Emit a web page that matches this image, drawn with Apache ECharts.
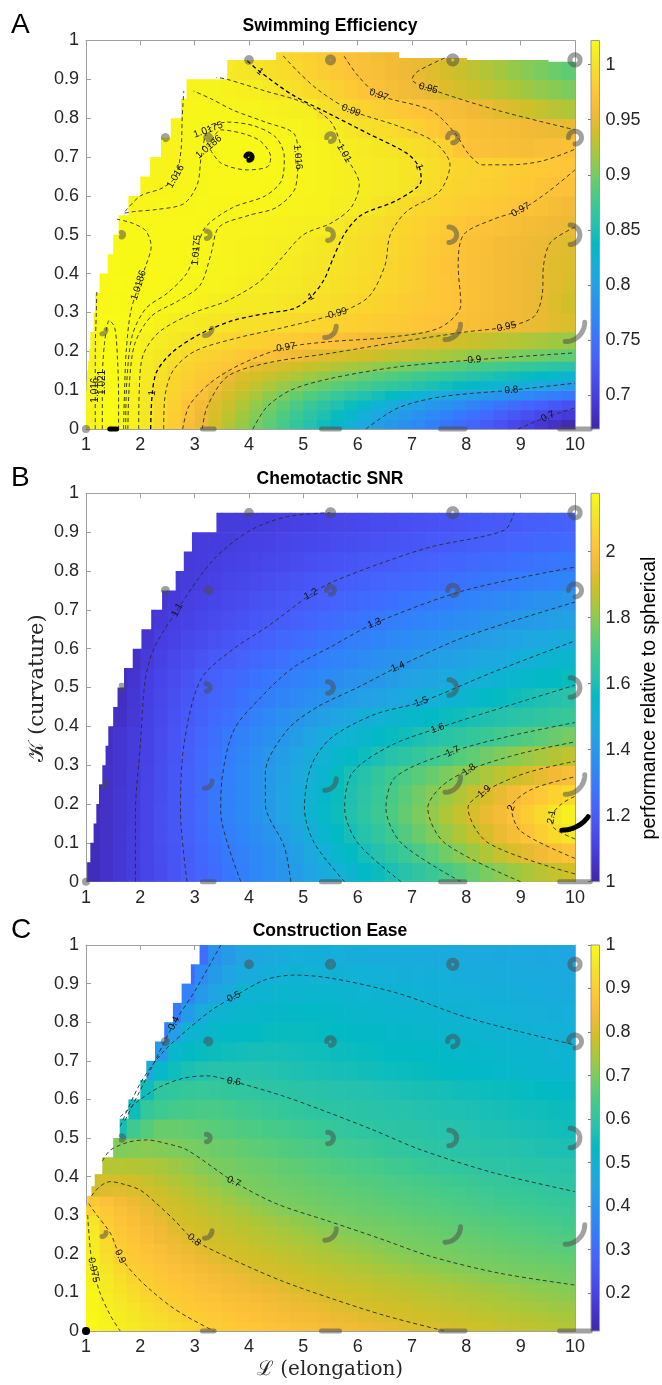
<!DOCTYPE html>
<html>
<head>
<meta charset="utf-8">
<script src="https://cdn.jsdelivr.net/npm/echarts@6/dist/echarts.min.js"></script>
<style>
html,body{margin:0;padding:0;background:#fff}
#chart{width:662px;height:1385px}
</style>
</head>
<body>
<div id="chart"></div>
<script>
// Column centres (elongation) shared by all three maps
const cellL = [1.125,1.375,1.625,1.875,2.125,2.375,2.625,2.875,3.125,3.375,3.625,3.875,4.125,4.375,4.625,4.875,5.125,5.375,5.625,5.875,6.125,6.375,6.625,6.875,7.125,7.375,7.625,7.875,8.125,8.375,8.625,8.875,9.125,9.375,9.625,9.875];
// Row centres (curvature); finer rows where the maps change quickly
const rowKA = [0.0125,0.0375,0.0625,0.0875,0.1125,0.1375,0.1625,0.1875,0.225,0.275,0.325,0.375,0.425,0.475,0.525,0.575,0.625,0.675,0.725,0.775,0.825,0.875,0.925,0.975];
const rowKB = [0.025,0.075,0.125,0.175,0.225,0.275,0.325,0.375,0.425,0.475,0.525,0.575,0.625,0.675,0.725,0.775,0.825,0.875,0.925,0.975];
const rowKC = [0.0125,0.0375,0.0625,0.0875,0.1125,0.1375,0.1625,0.1875,0.2125,0.2375,0.2625,0.2875,0.3125,0.3375,0.3625,0.3875,0.425,0.475,0.525,0.575,0.625,0.675,0.725,0.775,0.825,0.875,0.925,0.975];

// Swimming efficiency (rows bottom to top)
const effA = [
 [1.015,1.022,1.0203,1.0128,1.003,0.9923,0.9795,0.9658,0.9519,0.9389,0.926,0.9131,0.9003,0.8896,0.878,0.8664,0.8549,0.8433,0.8317,0.8201,0.8086,0.797,0.7883,0.7796,0.7709,0.7622,0.7535,0.7448,0.7361,0.7274,0.7186,0.7099,0.7012,0.6927,0.6843,0.676],
 [1.015,1.022,1.0204,1.0131,1.0033,0.9927,0.9812,0.9688,0.9543,0.9416,0.9296,0.9175,0.9055,0.8942,0.8834,0.8726,0.8619,0.8511,0.8403,0.8295,0.8188,0.808,0.7978,0.7896,0.7815,0.7733,0.7652,0.757,0.7489,0.7407,0.7326,0.7244,0.7163,0.7081,0.7003,0.6935],
 [1.015,1.022,1.0204,1.0132,1.0036,0.9931,0.9838,0.9719,0.9579,0.9449,0.9339,0.9228,0.9117,0.9006,0.8909,0.8812,0.8715,0.8618,0.8522,0.8425,0.8328,0.8231,0.8134,0.8038,0.7955,0.7883,0.7811,0.7739,0.7667,0.7595,0.7524,0.7452,0.738,0.7308,0.7237,0.7166],
 [1.015,1.022,1.0205,1.0134,1.004,0.9938,0.9849,0.9767,0.9669,0.9498,0.9399,0.9301,0.9203,0.9104,0.9006,0.8927,0.885,0.8773,0.8696,0.8619,0.8542,0.8465,0.8387,0.831,0.8233,0.8156,0.8079,0.8002,0.7946,0.7889,0.7832,0.7776,0.7719,0.7663,0.7606,0.755],
 [1.015,1.0215,1.0205,1.0137,1.0048,0.9954,0.9871,0.9803,0.9734,0.9596,0.9457,0.9378,0.9299,0.922,0.9141,0.9061,0.8989,0.8934,0.8879,0.8824,0.877,0.8715,0.866,0.8606,0.8551,0.8496,0.8441,0.8387,0.8332,0.8277,0.8223,0.8168,0.8113,0.8059,0.8003,0.7945],
 [1.015,1.0214,1.0204,1.0142,1.0059,0.997,0.9888,0.9835,0.9782,0.9729,0.9536,0.9449,0.9391,0.9333,0.9275,0.9217,0.9159,0.9101,0.9043,0.8989,0.8933,0.8888,0.8843,0.8799,0.8754,0.8709,0.8664,0.8619,0.8575,0.853,0.8485,0.8441,0.8396,0.8351,0.8306,0.8262],
 [1.015,1.0213,1.0203,1.0149,1.0074,1.0004,0.9924,0.9868,0.9824,0.9779,0.9734,0.9665,0.9527,0.9464,0.9419,0.9374,0.9328,0.9283,0.9238,0.9193,0.9148,0.9103,0.9058,0.9012,0.8975,0.894,0.8905,0.8869,0.8834,0.8799,0.8764,0.8729,0.8693,0.8658,0.8623,0.8588],
 [1.015,1.0212,1.0203,1.0157,1.0085,1.0034,0.9978,0.9907,0.9866,0.9829,0.9792,0.9754,0.9718,0.9671,0.9616,0.9562,0.9507,0.9472,0.9441,0.9409,0.9378,0.9347,0.9315,0.9284,0.9252,0.9221,0.919,0.9158,0.9127,0.9095,0.9064,0.9033,0.9001,0.8975,0.8947,0.8918],
 [1.015,1.0211,1.0202,1.0166,1.0119,1.0078,1.004,1.0002,0.9965,0.9929,0.9894,0.9868,0.9842,0.9817,0.9791,0.9765,0.9739,0.9713,0.9681,0.9642,0.9604,0.9565,0.9527,0.9491,0.9461,0.9432,0.9402,0.9372,0.9343,0.9313,0.9283,0.9254,0.9224,0.9194,0.9165,0.9135],
 [1.0155,1.0209,1.02,1.0181,1.0162,1.0134,1.0106,1.008,1.0053,1.0027,1.0001,0.9983,0.9964,0.9946,0.9928,0.991,0.9891,0.9872,0.9853,0.9833,0.9814,0.9795,0.9775,0.9756,0.9737,0.9717,0.9697,0.9669,0.9642,0.9614,0.9586,0.9558,0.9531,0.9503,0.947,0.944],
 [1.0155,1.0187,1.0194,1.0186,1.0179,1.017,1.0161,1.0144,1.0127,1.0109,1.0092,1.0075,1.0058,1.0041,1.0024,1.0007,0.9986,0.9961,0.9937,0.9912,0.9887,0.9861,0.9834,0.9808,0.9782,0.9755,0.9729,0.9703,0.967,0.9637,0.9603,0.957,0.9537,0.9503,0.944,0.938],
 [null,1.0186,1.0198,1.0189,1.0184,1.018,1.0176,1.0168,1.0159,1.0145,1.013,1.0116,1.0101,1.0081,1.006,1.0039,1.0018,0.9996,0.9971,0.9946,0.9921,0.9894,0.9862,0.9829,0.9797,0.9764,0.9732,0.9699,0.9667,0.9635,0.9603,0.9571,0.9538,0.9506,0.9465,0.9422],
 [null,1.0188,1.0195,1.0193,1.0186,1.0182,1.0179,1.0176,1.0166,1.0154,1.0142,1.013,1.0118,1.0106,1.0088,1.0063,1.0038,1.0013,0.9989,0.9964,0.9939,0.9915,0.9874,0.9836,0.9798,0.9761,0.9723,0.9697,0.9665,0.9634,0.9602,0.9571,0.9539,0.9508,0.9474,0.9439],
 [null,null,1.0193,1.0193,1.0188,1.0184,1.0181,1.0177,1.0172,1.016,1.0149,1.0139,1.0129,1.0119,1.0108,1.0095,1.0065,1.0035,1.0005,0.9977,0.9949,0.9922,0.9893,0.9855,0.9818,0.9781,0.9744,0.9707,0.9673,0.9642,0.961,0.9578,0.9547,0.9516,0.9488,0.9463],
 [null,null,1.019,1.0187,1.0184,1.0181,1.0179,1.0178,1.0176,1.0169,1.0157,1.0149,1.0141,1.0133,1.0126,1.0118,1.011,1.0102,1.0059,1.0005,0.9973,0.9942,0.9912,0.988,0.9848,0.9817,0.9785,0.9753,0.9721,0.969,0.9663,0.9635,0.9607,0.9579,0.9552,0.9524],
 [null,null,null,1.0161,1.0165,1.0169,1.0174,1.0176,1.0178,1.0177,1.0176,1.0173,1.0168,1.0164,1.0158,1.0146,1.0135,1.0124,1.0112,1.0101,1.0062,1.0019,0.9977,0.9934,0.9896,0.9871,0.9847,0.9822,0.9798,0.9773,0.9748,0.9724,0.9699,0.967,0.962,0.958],
 [null,null,null,null,1.015,1.0158,1.0165,1.0171,1.0176,1.0179,1.0181,1.0181,1.0179,1.0176,1.0169,1.0159,1.0146,1.0133,1.012,1.0107,1.0089,1.0065,1.004,1.0016,0.9984,0.9934,0.9893,0.9869,0.9845,0.9821,0.9797,0.9773,0.9749,0.9725,0.97,0.9675],
 [null,null,null,null,1.015,1.0154,1.0159,1.0167,1.0176,1.0182,1.0187,1.019,1.019,1.0185,1.0175,1.0161,1.0144,1.013,1.0115,1.0099,1.0079,1.006,1.004,1.002,1.0001,0.9956,0.9913,0.9886,0.9866,0.9847,0.9827,0.9808,0.9788,0.9769,0.9749,0.973],
 [null,null,null,null,null,1.0152,1.0157,1.0165,1.0173,1.0187,1.019,1.0192,1.0189,1.0183,1.0172,1.016,1.0143,1.0125,1.0106,1.0083,1.0057,1.0032,1.0007,0.9976,0.9945,0.9913,0.9838,0.9733,0.9687,0.9668,0.9649,0.963,0.9625,0.964,0.9655,0.967],
 [null,null,null,null,null,null,1.0153,1.0163,1.017,1.0176,1.0181,1.0183,1.0178,1.0171,1.0158,1.0143,1.0127,1.0112,1.0084,1.0028,0.9984,0.9954,0.9924,0.9888,0.983,0.9772,0.9715,0.9683,0.966,0.9637,0.9614,0.959,0.9567,0.9544,0.9521,0.9497],
 [null,null,null,null,null,null,null,1.0161,1.0164,1.0163,1.016,1.0151,1.0141,1.0131,1.0121,1.0111,1.0102,0.9984,0.9937,0.9892,0.9857,0.9821,0.9786,0.975,0.9715,0.9676,0.9636,0.9596,0.9556,0.9515,0.947,0.942,0.937,0.932,0.927,0.922],
 [null,null,null,null,null,null,null,1.0155,1.0155,1.0151,1.0134,1.0118,1.0104,1.0061,1.0006,0.9964,0.9921,0.9876,0.9827,0.9777,0.9728,0.968,0.9634,0.9588,0.9542,0.9495,0.9448,0.9401,0.9354,0.9307,0.926,0.9212,0.9165,0.9118,0.9071,0.9024],
 [null,null,null,null,null,null,null,null,null,null,1.0057,1.0031,1.0004,0.997,0.9934,0.9899,0.9852,0.9805,0.9758,0.9711,0.9669,0.9629,0.9589,0.9548,0.9508,0.9455,0.94,0.9345,0.929,0.9235,0.918,0.9125,0.907,0.9015,0.896,0.8905],
 [null,null,null,null,null,null,null,null,null,null,null,null,null,null,0.99,0.986,0.982,0.978,0.973,0.968,0.964,0.96,0.957,0.955,0.953,0.951,0.949,0.946,null,null,null,null,null,null,null,null]
];
// Chemotactic signal-to-noise ratio
const snrB = [
 [1.031,1.053,1.075,1.097,1.123,1.149,1.176,1.203,1.229,1.256,1.282,1.309,1.335,1.361,1.388,1.415,1.444,1.472,1.5,1.526,1.552,1.577,1.602,1.627,1.651,1.676,1.7,1.725,1.749,1.773,1.798,1.82,1.84,1.86,1.878,1.898],
 [1.031,1.053,1.075,1.097,1.124,1.151,1.178,1.206,1.236,1.266,1.295,1.32,1.345,1.37,1.395,1.43,1.467,1.504,1.533,1.562,1.591,1.62,1.648,1.677,1.705,1.734,1.763,1.791,1.821,1.85,1.879,1.908,1.933,1.958,1.983,2.008],
 [1.031,1.052,1.074,1.096,1.124,1.154,1.183,1.213,1.245,1.277,1.307,1.332,1.358,1.383,1.414,1.455,1.496,1.529,1.561,1.593,1.625,1.656,1.688,1.72,1.751,1.783,1.815,1.846,1.878,1.91,1.942,1.975,2.008,2.042,2.076,2.11],
 [1.031,1.052,1.074,1.095,1.124,1.155,1.186,1.218,1.252,1.286,1.317,1.347,1.377,1.408,1.443,1.478,1.513,1.546,1.58,1.614,1.646,1.679,1.712,1.745,1.777,1.81,1.843,1.877,1.909,1.941,1.972,2.005,2.039,2.074,2.109,2.143],
 [1.031,1.052,1.073,1.094,1.122,1.153,1.184,1.217,1.251,1.285,1.317,1.348,1.378,1.41,1.443,1.476,1.509,1.542,1.575,1.608,1.64,1.672,1.703,1.732,1.762,1.791,1.821,1.85,1.879,1.909,1.941,1.972,2.003,2.028,2.053,2.078],
 [null,1.051,1.072,1.092,1.119,1.151,1.182,1.214,1.249,1.283,1.316,1.347,1.378,1.409,1.439,1.469,1.499,1.532,1.565,1.598,1.626,1.655,1.683,1.708,1.731,1.753,1.775,1.798,1.82,1.842,1.865,1.887,1.91,1.934,1.958,1.982],
 [null,1.05,1.071,1.091,1.117,1.148,1.179,1.211,1.243,1.274,1.305,1.334,1.362,1.391,1.42,1.451,1.481,1.509,1.532,1.555,1.579,1.602,1.622,1.642,1.663,1.683,1.703,1.722,1.741,1.76,1.78,1.799,1.817,1.834,1.852,1.87],
 [null,1.05,1.07,1.09,1.115,1.145,1.175,1.205,1.234,1.263,1.293,1.319,1.345,1.371,1.397,1.424,1.451,1.478,1.503,1.52,1.536,1.553,1.57,1.586,1.603,1.617,1.632,1.646,1.661,1.675,1.69,1.705,1.72,1.736,1.752,1.767],
 [null,null,1.046,1.079,1.109,1.137,1.165,1.193,1.219,1.244,1.269,1.294,1.318,1.34,1.363,1.386,1.408,1.429,1.449,1.47,1.491,1.508,1.521,1.534,1.547,1.56,1.573,1.586,1.599,1.61,1.62,1.631,1.641,1.652,1.663,1.673],
 [null,null,1.041,1.074,1.106,1.132,1.158,1.184,1.208,1.229,1.25,1.271,1.292,1.311,1.329,1.346,1.364,1.382,1.4,1.414,1.428,1.442,1.457,1.471,1.485,1.5,1.513,1.526,1.539,1.552,1.566,1.579,1.592,1.605,1.617,1.63],
 [null,null,1.04,1.066,1.102,1.126,1.15,1.173,1.198,1.215,1.232,1.25,1.267,1.284,1.301,1.315,1.329,1.344,1.358,1.372,1.387,1.401,1.415,1.428,1.441,1.454,1.467,1.48,1.494,1.506,1.518,1.529,1.541,1.552,1.564,1.576],
 [null,null,null,1.052,1.089,1.113,1.132,1.153,1.17,1.19,1.206,1.222,1.237,1.253,1.269,1.285,1.3,1.313,1.326,1.338,1.351,1.364,1.376,1.389,1.402,1.414,1.426,1.438,1.45,1.462,1.474,1.486,1.498,1.51,1.522,1.534],
 [null,null,null,null,1.072,1.101,1.116,1.132,1.147,1.162,1.178,1.193,1.208,1.222,1.236,1.25,1.263,1.277,1.291,1.304,1.316,1.328,1.34,1.352,1.363,1.375,1.387,1.399,1.41,1.422,1.433,1.444,1.456,1.467,1.478,1.49],
 [null,null,null,null,1.07,1.084,1.103,1.116,1.129,1.142,1.155,1.167,1.18,1.193,1.206,1.218,1.231,1.243,1.256,1.268,1.281,1.293,1.305,1.315,1.325,1.335,1.345,1.355,1.365,1.376,1.386,1.396,1.406,1.415,1.425,1.435],
 [null,null,null,null,null,1.075,1.089,1.103,1.114,1.126,1.137,1.149,1.16,1.171,1.183,1.194,1.205,1.215,1.225,1.235,1.245,1.255,1.266,1.276,1.286,1.296,1.306,1.315,1.325,1.334,1.344,1.353,1.363,1.372,1.382,1.391],
 [null,null,null,null,null,null,1.082,1.091,1.102,1.112,1.122,1.132,1.142,1.152,1.161,1.171,1.181,1.191,1.201,1.209,1.216,1.224,1.232,1.24,1.247,1.255,1.263,1.271,1.278,1.286,1.294,1.302,1.309,1.316,1.324,1.331],
 [null,null,null,null,null,null,null,1.087,1.094,1.102,1.109,1.117,1.125,1.133,1.14,1.148,1.156,1.164,1.172,1.179,1.187,1.195,1.202,1.209,1.215,1.222,1.229,1.235,1.242,1.249,1.255,1.262,1.269,1.275,1.282,1.289],
 [null,null,null,null,null,null,null,1.088,1.091,1.094,1.098,1.103,1.109,1.115,1.122,1.128,1.134,1.14,1.146,1.153,1.159,1.165,1.171,1.178,1.184,1.19,1.196,1.202,1.208,1.214,1.219,1.225,1.23,1.236,1.241,1.247],
 [null,null,null,null,null,null,null,null,null,1.09,1.093,1.095,1.098,1.099,1.105,1.11,1.116,1.122,1.127,1.133,1.139,1.145,1.15,1.156,1.162,1.168,1.173,1.179,1.185,1.191,1.196,1.202,1.207,1.212,1.217,1.222],
 [null,null,null,null,null,null,null,null,null,null,null,null,null,null,null,null,null,null,null,null,null,null,null,null,null,null,null,null,null,null,null,null,null,null,null,null]
];
// Construction ease
const easeC = [
 [0.9946,0.9837,0.9726,0.9609,0.9492,0.9376,0.9259,0.9142,0.9026,0.8952,0.8891,0.883,0.8768,0.8707,0.8646,0.8585,0.8523,0.8462,0.8401,0.834,0.8279,0.8217,0.8156,0.8095,0.8033,0.798,0.7936,0.7892,0.7848,0.7805,0.7761,0.7717,0.7673,0.7629,0.7586,0.7542],
 [0.991,0.979,0.9662,0.9527,0.9393,0.9258,0.9124,0.8995,0.8927,0.886,0.8793,0.8725,0.8658,0.8591,0.8524,0.8456,0.8389,0.8322,0.8254,0.8187,0.812,0.8053,0.799,0.7947,0.7903,0.7859,0.7815,0.7772,0.7728,0.7684,0.764,0.7597,0.7553,0.7509,0.7465,0.7422],
 [0.9883,0.9751,0.9595,0.9439,0.9283,0.9128,0.8987,0.8914,0.8841,0.8768,0.8694,0.8621,0.8548,0.8475,0.8402,0.8329,0.8256,0.8183,0.811,0.8037,0.7978,0.7933,0.7888,0.7843,0.7798,0.7753,0.7708,0.7663,0.7618,0.7573,0.7528,0.7483,0.7438,0.7393,0.7348,0.7303],
 [0.9848,0.9693,0.9515,0.9337,0.916,0.8992,0.8911,0.8831,0.875,0.8669,0.8589,0.8508,0.8427,0.8347,0.8266,0.8185,0.8105,0.8024,0.7967,0.7921,0.7874,0.7827,0.778,0.7734,0.7687,0.764,0.7594,0.7547,0.75,0.7453,0.7407,0.736,0.7313,0.7267,0.722,0.7173],
 [0.9832,0.963,0.9424,0.9218,0.9012,0.8916,0.8827,0.8738,0.8649,0.856,0.8471,0.8381,0.8292,0.8203,0.8114,0.8025,0.7966,0.7918,0.787,0.7822,0.7774,0.7726,0.7678,0.763,0.7582,0.7534,0.7486,0.7438,0.739,0.7342,0.7294,0.7246,0.7198,0.715,0.7102,0.7054],
 [0.979,0.9563,0.9322,0.9082,0.8934,0.8835,0.8735,0.8635,0.8536,0.8436,0.8337,0.8237,0.8137,0.8038,0.7967,0.7914,0.7861,0.7807,0.7754,0.77,0.7648,0.7594,0.7541,0.7488,0.7434,0.7381,0.7328,0.7274,0.7221,0.7168,0.7114,0.7061,0.7007,0.6975,0.6945,0.6915],
 [0.9757,0.9479,0.9197,0.8967,0.8857,0.8747,0.8637,0.8526,0.8416,0.8306,0.8196,0.8086,0.7987,0.7927,0.7867,0.7807,0.7747,0.7687,0.7627,0.7567,0.7507,0.7448,0.7388,0.7328,0.7268,0.7208,0.7148,0.7088,0.7028,0.6986,0.696,0.6935,0.6909,0.6884,0.6858,0.6833],
 [0.9724,0.9386,0.9047,0.8893,0.8769,0.8644,0.852,0.8396,0.8271,0.8147,0.8022,0.7945,0.7882,0.7818,0.7753,0.7688,0.7622,0.7557,0.7492,0.7427,0.7362,0.7297,0.7232,0.7166,0.7101,0.7035,0.6987,0.6959,0.6931,0.6903,0.6875,0.6847,0.6819,0.6791,0.6763,0.6734],
 [0.968,0.9298,0.8969,0.8826,0.8683,0.854,0.8397,0.8254,0.8111,0.7985,0.7916,0.7848,0.7779,0.771,0.7641,0.7573,0.7504,0.7435,0.7367,0.7298,0.7229,0.716,0.7092,0.7023,0.6979,0.6947,0.6915,0.6883,0.6851,0.6819,0.6787,0.6754,0.6722,0.669,0.6658,0.6626],
 [0.9647,0.9216,0.8916,0.8747,0.8578,0.8409,0.824,0.8071,0.7958,0.7886,0.7814,0.7742,0.767,0.7598,0.7526,0.7454,0.7383,0.7311,0.7239,0.7167,0.7095,0.7023,0.6976,0.6941,0.6906,0.6872,0.6837,0.6803,0.6768,0.6734,0.6699,0.6665,0.663,0.6596,0.6561,0.6527],
 [0.9591,0.9054,0.8839,0.866,0.8482,0.8304,0.8125,0.7976,0.7896,0.7816,0.7736,0.7656,0.7577,0.7497,0.7417,0.7337,0.7257,0.7177,0.7097,0.7018,0.6972,0.6936,0.69,0.6864,0.6827,0.6791,0.6755,0.6719,0.6683,0.6646,0.661,0.6574,0.6538,0.6502,0.6465,0.6429],
 [0.9467,0.8922,0.8737,0.8552,0.8367,0.8181,0.7998,0.7908,0.7818,0.7728,0.7638,0.7549,0.7459,0.7369,0.7279,0.7189,0.7099,0.7009,0.6966,0.6928,0.689,0.6852,0.6814,0.6776,0.6738,0.67,0.6662,0.6624,0.6586,0.6548,0.651,0.6472,0.6434,0.6396,0.6357,0.6319],
 [0.9077,0.8818,0.8624,0.8431,0.8237,0.8043,0.792,0.7818,0.7715,0.7613,0.7512,0.7406,0.7303,0.7201,0.7098,0.6999,0.696,0.6921,0.6882,0.6843,0.6804,0.6765,0.6726,0.6687,0.6648,0.6609,0.657,0.6531,0.6492,0.6453,0.6414,0.6375,0.6336,0.6297,0.6258,0.6219],
 [0.8823,0.8639,0.8455,0.8271,0.8086,0.7938,0.7822,0.7706,0.7591,0.7475,0.7359,0.7243,0.7127,0.7012,0.6964,0.6924,0.6884,0.6843,0.6803,0.6763,0.6723,0.6683,0.6643,0.6602,0.6562,0.6522,0.6482,0.6442,0.6402,0.6362,0.6321,0.6281,0.6241,0.6201,0.6161,0.6121],
 [0.793,0.8046,0.8094,0.8035,0.7948,0.7826,0.7703,0.7581,0.7458,0.7335,0.7213,0.7089,0.6987,0.6946,0.6904,0.6862,0.682,0.6778,0.6735,0.6693,0.6651,0.6609,0.6567,0.6525,0.6483,0.6441,0.6399,0.6357,0.6315,0.6273,0.6231,0.6189,0.6147,0.6105,0.6063,0.6021],
 [0.785,0.7945,0.7961,0.7906,0.7792,0.7669,0.7547,0.7424,0.7301,0.7179,0.7056,0.6972,0.6927,0.6882,0.6837,0.6792,0.6747,0.6702,0.6658,0.6613,0.6568,0.6523,0.6478,0.6433,0.6388,0.6342,0.6297,0.6252,0.6207,0.6162,0.6117,0.6072,0.6027,0.5993,0.5976,0.5959],
 [null,0.759,0.758,0.756,0.752,0.744,0.734,0.722,0.709,0.699,0.694,0.689,0.683,0.678,0.673,0.668,0.663,0.658,0.652,0.647,0.642,0.637,0.632,0.627,0.621,0.616,0.611,0.606,0.601,0.598,0.596,0.594,0.592,0.589,0.587,0.585],
 [null,null,0.703,0.708,0.712,0.707,0.702,0.696,0.69,0.685,0.679,0.673,0.667,0.662,0.656,0.65,0.645,0.639,0.633,0.627,0.622,0.616,0.61,0.605,0.6,0.597,0.594,0.591,0.588,0.585,0.582,0.579,0.576,0.573,0.57,0.567],
 [null,null,0.56,0.632,0.66,0.679,0.677,0.674,0.669,0.664,0.658,0.652,0.647,0.641,0.636,0.63,0.625,0.619,0.613,0.607,0.602,0.598,0.595,0.592,0.588,0.585,0.582,0.579,0.576,0.573,0.57,0.567,0.564,0.561,0.558,0.555],
 [null,null,null,0.55,0.613,0.627,0.636,0.64,0.644,0.643,0.638,0.632,0.626,0.62,0.614,0.608,0.602,0.598,0.596,0.593,0.59,0.587,0.584,0.581,0.578,0.575,0.572,0.569,0.566,0.563,0.56,0.557,0.554,0.551,0.548,0.545],
 [null,null,null,null,0.55,0.602,0.608,0.615,0.617,0.614,0.61,0.605,0.601,0.598,0.595,0.592,0.589,0.586,0.583,0.58,0.577,0.574,0.571,0.568,0.565,0.562,0.559,0.555,0.552,0.549,0.546,0.543,0.54,0.537,0.534,0.531],
 [null,null,null,null,0.46,0.525,0.552,0.566,0.577,0.581,0.584,0.584,0.581,0.578,0.575,0.571,0.568,0.565,0.562,0.559,0.555,0.552,0.549,0.546,0.543,0.539,0.536,0.533,0.53,0.527,0.524,0.52,0.517,0.514,0.511,0.508],
 [null,null,null,null,null,0.42,0.515,0.533,0.542,0.547,0.552,0.556,0.56,0.561,0.559,0.556,0.554,0.551,0.548,0.546,0.543,0.54,0.538,0.535,0.532,0.529,0.527,0.524,0.521,0.519,0.516,0.513,0.51,0.508,0.505,0.502],
 [null,null,null,null,null,0.34,0.43,0.502,0.513,0.524,0.532,0.535,0.538,0.541,0.543,0.544,0.541,0.539,0.536,0.533,0.531,0.528,0.525,0.523,0.52,0.517,0.514,0.512,0.509,0.506,0.503,0.501,0.499,0.496,0.494,0.491],
 [null,null,null,null,null,null,0.34,0.424,0.473,0.503,0.509,0.515,0.52,0.523,0.526,0.528,0.529,0.526,0.523,0.52,0.518,0.515,0.512,0.509,0.506,0.504,0.501,0.499,0.497,0.494,0.492,0.49,0.488,0.485,0.483,0.481],
 [null,null,null,null,null,null,null,0.36,0.417,0.447,0.477,0.501,0.504,0.507,0.51,0.512,0.511,0.511,0.51,0.508,0.505,0.503,0.5,0.499,0.497,0.495,0.492,0.49,0.488,0.486,0.484,0.482,0.479,0.477,0.475,0.473],
 [null,null,null,null,null,null,null,0.3,0.38,0.42,0.447,0.468,0.477,0.486,0.493,0.498,0.497,0.496,0.495,0.494,0.492,0.49,0.488,0.487,0.485,0.483,0.481,0.479,0.477,0.476,0.474,0.472,0.47,0.468,0.467,0.465],
 [null,null,null,null,null,null,null,null,0.31,0.398,0.422,0.444,0.459,0.466,0.474,0.481,0.484,0.483,0.481,0.48,0.478,0.477,0.475,0.474,0.472,0.471,0.469,0.468,0.466,0.465,0.463,0.462,0.46,0.459,0.457,0.456]
];

// Feasible-shape boundary: smallest elongation per row, largest curvature per column
const edgeLeftA = [1,1,1,1,1.01,1.02,1.04,1.06,1.08,1.14,1.17,1.25,1.4,1.5,1.6,1.78,1.98,2.18,2.38,2.56,2.7,2.85,3.6,4.5];
const edgeTopA  = [0.95,0.95,0.95,0.95,0.95,0.95,0.95,0.95,0.95,0.95,0.95,0.95,0.95,0.95,0.97,0.97,0.97,0.97,0.97,0.97,0.97,0.97,0.97,0.955,0.955,0.955,0.955,0.955,0.95,0.95,0.95,0.95,0.95,0.95,0.945,0.945];
const edgeLeftB = [1.02,1.08,1.14,1.19,1.24,1.3,1.36,1.41,1.5,1.58,1.7,1.86,2.02,2.2,2.4,2.65,2.8,2.95,3.4,10];
const edgeTopB  = 0.95;
const edgeLeftC = [1,1,1,1,1,1,1,1,1,1,1,1,1,1.02,1.1,1.16,1.3,1.46,1.62,1.78,1.95,2.11,2.27,2.44,2.6,2.76,2.93,3.09];
const edgeTopC  = 1.0;

// Contour lines: level, traced (L, K) points, and labelled points [index, angle]
const contoursA = [
 {lv:'1.021', pts:[[1.3,0],[1.3,0.12],[1.34,0.22],[1.43,0.28],[1.53,0.26],[1.58,0.18],[1.6,0.08],[1.6,0]], lab:[[1,90]]},
 {lv:'1.016', pts:[[1.17,0],[1.17,0.1],[1.17,0.2],[1.19,0.3],[1.2,0.36]], lab:[[1,90]]},
 {lv:'1.0186', pts:[[1.69,0],[1.71,0.1],[1.74,0.2],[1.82,0.3],[1.97,0.37],[2.1,0.42],[2.2,0.47],[2.1,0.51],[1.85,0.53],[1.57,0.54]], lab:[[4,72]]},
 {lv:'1.0175', pts:[[1.73,0],[1.75,0.12],[1.85,0.24],[2.1,0.31],[2.5,0.35],[2.85,0.4],[3.03,0.46],[3.2,0.52],[3.7,0.57],[4.3,0.6],[4.6,0.64],[4.65,0.7],[4.5,0.75],[4.1,0.78],[3.6,0.79],[3.25,0.77],[3.12,0.7],[3.05,0.63],[2.8,0.58],[2.3,0.565],[1.9,0.56],[1.68,0.555]], lab:[[6,85],[15,20]]},
 {lv:'1.0186', pts:[[3.26,0.726],[3.48,0.77],[3.9,0.76],[4.22,0.74],[4.4,0.7],[4.34,0.675],[3.97,0.667],[3.48,0.685],[3.26,0.726]], lab:[[0,40]]},
 {lv:'1.016', pts:[[1.72,0.56],[2.0,0.6],[2.4,0.62],[2.65,0.65],[2.75,0.72],[2.77,0.8],[2.8,0.87]], lab:[[3,60]]},
 {lv:'1.016', pts:[[1.77,0],[1.8,0.12],[1.9,0.22],[2.2,0.29],[2.7,0.33],[3.1,0.37],[3.3,0.45],[3.45,0.52],[4.0,0.55],[4.5,0.57],[4.85,0.62],[4.9,0.7],[4.83,0.76],[4.3,0.79],[3.72,0.82],[3.3,0.85],[2.98,0.87]], lab:[[11,-85]]},
 {lv:'1.01', pts:[[1.97,0],[1.98,0.1],[2.05,0.19],[2.35,0.25],[3.0,0.3],[3.6,0.33],[4.2,0.38],[4.6,0.44],[5.0,0.5],[5.51,0.53],[5.88,0.57],[6.03,0.63],[5.75,0.71],[5.51,0.79],[5.0,0.84],[4.3,0.87],[3.6,0.9],[3.4,0.905]], lab:[[12,-60]]},
 {lv:'1', bold:true, pts:[[2.19,0],[2.22,0.093],[2.31,0.15],[2.61,0.2],[3.11,0.245],[3.72,0.28],[4.34,0.298],[4.83,0.31],[5.14,0.34],[5.38,0.384],[5.55,0.44],[5.75,0.5],[6.06,0.55],[6.74,0.59],[7.17,0.64],[7.13,0.675],[6.9,0.71],[6.2,0.76],[5.5,0.81],[4.8,0.86],[4.2,0.92],[3.95,0.95]], lab:[[1,85],[8,30],[15,-75],[20,-40]]},
 {lv:'0.99', pts:[[2.43,0],[2.45,0.08],[2.6,0.15],[3.0,0.2],[3.8,0.235],[4.6,0.26],[5.63,0.298],[6.2,0.34],[6.5,0.42],[6.6,0.5],[6.9,0.56],[7.5,0.61],[7.7,0.68],[7.4,0.74],[6.74,0.78],[5.88,0.82],[5.3,0.87],[4.9,0.92],[4.6,0.965]], lab:[[6,15],[15,-20]]},
 {lv:'0.97', pts:[[2.78,0],[2.9,0.06],[3.3,0.12],[3.9,0.17],[4.68,0.21],[5.5,0.225],[6.5,0.235],[7.5,0.26],[7.9,0.32],[7.85,0.42],[7.95,0.5],[8.5,0.54],[9.0,0.564],[9.5,0.61],[10,0.667]], lab:[[4,8],[12,28]]},
 {lv:'0.97', pts:[[5.75,0.96],[6.0,0.91],[6.39,0.86],[7.35,0.82],[7.8,0.76],[8.03,0.71],[8.3,0.68],[8.8,0.68],[9.4,0.69],[10,0.72]], lab:[[2,-20]]},
 {lv:'0.95', pts:[[7.6,0.955],[7.1,0.92],[7.0,0.9],[7.3,0.877],[8.58,0.82],[10,0.77]], lab:[[3,-15]]},
 {lv:'0.95', pts:[[3.14,0],[3.23,0.057],[3.6,0.135],[4.34,0.17],[5.5,0.195],[6.8,0.225],[8.0,0.25],[8.74,0.263],[9.25,0.29],[9.4,0.35],[9.42,0.42],[9.55,0.48],[10,0.52]], lab:[[7,12]]},
 {lv:'0.9', pts:[[4.07,0],[4.33,0.057],[4.77,0.1],[5.5,0.13],[6.74,0.16],[8.15,0.178],[10,0.196]], lab:[[5,5]]},
 {lv:'0.8', pts:[[6.15,0],[6.74,0.054],[7.54,0.083],[8.83,0.1],[10,0.118]], lab:[[3,5]]},
 {lv:'0.7', pts:[[8.95,0],[9.5,0.032],[10,0.054]], lab:[[1,25]]}
];
const contoursB = [
 {lv:'1.1', pts:[[1.91,0],[1.91,0.18],[2.0,0.35],[2.09,0.52],[2.25,0.6],[2.68,0.7],[3.35,0.83],[4.03,0.905],[4.71,0.94],[5.5,0.95]], lab:[[5,62]]},
 {lv:'1.2', pts:[[2.86,0],[2.74,0.18],[2.8,0.35],[3.11,0.52],[3.72,0.6],[4.34,0.657],[5.14,0.74],[5.51,0.77],[6.43,0.82],[7.35,0.862],[8.7,0.905],[8.88,0.95]], lab:[[6,28]]},
 {lv:'1.3', pts:[[3.85,0],[3.6,0.1],[3.48,0.18],[3.5,0.26],[3.72,0.39],[4.22,0.475],[4.8,0.55],[5.51,0.605],[6.31,0.665],[7.97,0.75],[10,0.81]], lab:[[8,22]]},
 {lv:'1.4', pts:[[4.77,0],[4.65,0.09],[4.3,0.2],[4.3,0.28],[4.7,0.39],[5.26,0.45],[6.0,0.5],[6.74,0.553],[7.97,0.63],[10,0.72]], lab:[[7,22]]},
 {lv:'1.5', pts:[[5.76,0],[5.2,0.1],[5.02,0.19],[5.15,0.3],[5.51,0.37],[6.3,0.43],[7.17,0.463],[8.5,0.54],[10,0.62]], lab:[[6,20]]},
 {lv:'1.6', pts:[[6.8,0],[6.0,0.1],[5.76,0.19],[5.9,0.28],[6.6,0.35],[7.47,0.395],[8.7,0.45],[10,0.506]], lab:[[5,20]]},
 {lv:'1.7', pts:[[7.9,0],[6.8,0.1],[6.52,0.19],[6.7,0.27],[7.75,0.335],[8.8,0.375],[10,0.41]], lab:[[4,25]]},
 {lv:'1.8', pts:[[9.0,0],[7.6,0.1],[7.29,0.19],[7.54,0.245],[8.05,0.288],[9.0,0.33],[10,0.36]], lab:[[4,35]]},
 {lv:'1.9', pts:[[10,0.02],[8.4,0.1],[8.03,0.19],[8.33,0.232],[9.1,0.28],[10,0.31]], lab:[[3,40]]},
 {lv:'2', pts:[[10,0.06],[9.0,0.13],[8.83,0.19],[9.19,0.237],[10,0.27]], lab:[[2,70]]},
 {lv:'2.1', pts:[[10,0.11],[9.6,0.14],[9.57,0.167],[9.75,0.2],[10,0.22]], lab:[[2,80]]}
];
const contoursC = [
 {lv:'0.4', pts:[[3.48,1.0],[3.0,0.88],[2.62,0.797],[2.2,0.68],[1.69,0.538]], lab:[[2,62]]},
 {lv:'0.5', pts:[[1.63,0.53],[2.0,0.642],[2.4,0.72],[2.86,0.78],[3.3,0.83],[3.72,0.866],[4.3,0.91],[4.83,0.922],[5.51,0.914],[6.74,0.875],[7.97,0.814],[9,0.775],[10,0.741]], lab:[[5,25]]},
 {lv:'0.6', pts:[[1.63,0.555],[2.0,0.6],[2.37,0.633],[2.8,0.655],[3.23,0.661],[3.72,0.646],[4.6,0.61],[5.5,0.564],[6.3,0.52],[7.17,0.469],[8.5,0.41],[10,0.361]], lab:[[5,-10]]},
 {lv:'0.7', pts:[[1.3,0.44],[1.45,0.469],[1.8,0.49],[2.12,0.495],[2.5,0.485],[2.86,0.469],[3.72,0.387],[4.5,0.33],[5.5,0.283],[6.4,0.24],[7.35,0.193],[8.6,0.15],[10,0.119]], lab:[[6,-25]]},
 {lv:'0.8', pts:[[1.1,0.35],[1.26,0.375],[1.45,0.387],[1.7,0.38],[2.0,0.365],[2.3,0.33],[2.62,0.288],[2.99,0.236],[3.72,0.184],[4.6,0.13],[5.5,0.085],[6.5,0.04],[7.6,0.0]], lab:[[7,-38]]},
 {lv:'0.9', pts:[[1.05,0.33],[1.2,0.3],[1.45,0.253],[1.63,0.193],[1.9,0.145],[2.19,0.106],[2.55,0.065],[2.86,0.037],[3.35,0.0]], lab:[[3,-65]]},
 {lv:'0.975', pts:[[1.03,0.3],[1.08,0.21],[1.14,0.158],[1.26,0.098],[1.45,0.04],[1.63,0.0]], lab:[[2,-78]]}
];

// Cell-shape glyph sites (elongation per curvature row) and the optimum of each panel
const siteK = [0, 0.25, 0.5, 0.75, 0.95];
const siteL = [[1,3.25,5.5,7.75,10],[1.33,3.25,5.5,7.75,10],[1.67,3.25,5.5,7.75,10],[2.46,3.25,5.5,7.75,10],[4,5.5,7.75,10]];
const bestA = [[4,0.7],[1.5,0]];
const bestB = [[10,0.15]];
const bestC = [[1,0]];

// Colour-bar tick values
const ticksA = [0.7,0.75,0.8,0.85,0.9,0.95,1];
const ticksB = [1,1.2,1.4,1.6,1.8,2];
const ticksC = [0.2,0.3,0.4,0.5,0.6,0.7,0.8,0.9,1];
const xTicks = [1,2,3,4,5,6,7,8,9,10];

const parula = ['#3e26a8','#4432cb','#4741e5','#4852f4','#4563fd','#3875fe','#2e87f7','#2796eb','#20a5e3','#12b1d6','#02bac3','#24c1ae','#37c897','#57cc7a','#81cc59','#abc739','#d1bf27','#f0ba36','#fec338','#fad62d','#f5e924','#f9fb15'];

const FONT = '"Liberation Sans", Arial, Helvetica, sans-serif';
const SERIF = '"DejaVu Serif", "Liberation Serif", serif';

const panels = [
 {letter:'A', title:'Swimming Efficiency', top:40.5, height:388.5, grid:effA, rows:rowKA, eL:edgeLeftA, eT:edgeTopA, min:0.669, max:1.022, ticks:ticksA, contours:contoursA, best:bestA},
 {letter:'B', title:'Chemotactic SNR', top:493.3, height:388.4, grid:snrB, rows:rowKB, eL:edgeLeftB, eT:edgeTopB, min:1.0, max:2.177, ticks:ticksB, contours:contoursB, best:bestB},
 {letter:'C', title:'Construction Ease', top:945, height:386, grid:easeC, rows:rowKC, eL:edgeLeftC, eT:edgeTopC, min:0.113, max:1.0, ticks:ticksC, contours:contoursC, best:bestC}
];

const HALF_L = 0.125;

// Each cell spans half-way to its neighbouring rows, clipped to the feasible region
function cellRenderer(rows, eL, eT) {
  return function (params, api) {
    const x = api.value(0);
    const c = api.value(3), r = api.value(4);
    const top = Array.isArray(eT) ? eT[c] : eT;
    const k = rows[r];
    const lo = r === 0 ? 0 : (rows[r-1] + k) / 2;
    const hi = r === rows.length - 1 ? 1 : (rows[r+1] + k) / 2;
    const x0 = Math.max(x - HALF_L, eL[r]);
    const x1 = x + HALF_L;
    const y1 = Math.min(hi, top);
    if (x1 <= x0 || y1 <= lo) return;
    const a = api.coord([x0, y1]);
    const b = api.coord([x1, lo]);
    return {type:'rect', shape:{x:a[0], y:a[1], width:b[0]-a[0]+0.7, height:b[1]-a[1]+0.7},
      style:{fill: api.visual('color')}};
  };
}

// A curved rod: arc spanning 2*pi*K, length growing with L
function glyphRenderer(color) {
  return function (params, api) {
    const L = api.value(0), K = api.value(1);
    const p = api.coord([L, K]);
    if (L <= 1.0001) {
      return {type:'circle', shape:{cx:p[0], cy:p[1], r:4}, style:{fill:color}};
    }
    const len = 5.4 + 2.8 * (L - 1);
    const pts = [];
    const n = 28;
    if (K < 1e-6) {
      pts.push([-len/2, 0], [len/2, 0]);
    } else {
      const th = 2 * Math.PI * K;
      const R = len / th;
      const phi = (-90 + 180 * K) * Math.PI / 180;
      for (let i = 0; i <= n; i++) {
        const a = phi - th/2 + th * i / n;
        pts.push([R * Math.cos(a), -R * Math.sin(a)]);
      }
    }
    let mnx = Infinity, mxx = -Infinity, mny = Infinity, mxy = -Infinity;
    pts.forEach(q => { mnx = Math.min(mnx,q[0]); mxx = Math.max(mxx,q[0]); mny = Math.min(mny,q[1]); mxy = Math.max(mxy,q[1]); });
    const cx = (mnx + mxx) / 2, cy = (mny + mxy) / 2;
    return {type:'polyline', shape:{points: pts.map(q => [p[0] + q[0] - cx, p[1] + q[1] - cy])},
      style:{stroke:color, lineWidth:5, lineCap:'round', lineJoin:'round', fill:null}};
  };
}

const option = {animation:false, backgroundColor:'#fff', grid:[], xAxis:[], yAxis:[], series:[], visualMap:[], graphic:[]};
const axisGray = '#a0a0a0';
const labelDark = '#262626';

panels.forEach((p, g) => {
  option.grid.push({left:86, width:489, top:p.top, height:p.height});
  option.xAxis.push({type:'value', gridIndex:g, min:1, max:10, interval:1, position:'bottom',
    axisLine:{show:true, onZero:false, lineStyle:{color:axisGray}},
    axisTick:{show:true, inside:true, length:5, lineStyle:{color:axisGray}},
    axisLabel:{color:labelDark, fontSize:18, margin:7, fontFamily:FONT, customValues:xTicks},
    splitLine:{show:false}});
  option.xAxis.push({type:'value', gridIndex:g, min:1, max:10, interval:1, position:'top',
    axisLine:{show:true, onZero:false, lineStyle:{color:axisGray}},
    axisTick:{show:true, inside:true, length:5, lineStyle:{color:axisGray}},
    axisLabel:{show:false}, splitLine:{show:false}});
  option.yAxis.push({type:'value', gridIndex:g, min:0, max:1, interval:0.1, position:'left',
    axisLine:{show:true, onZero:false, lineStyle:{color:axisGray}},
    axisTick:{show:true, inside:true, length:5, lineStyle:{color:axisGray}},
    axisLabel:{color:labelDark, fontSize:18, margin:7, fontFamily:FONT},
    splitLine:{show:false}});
  option.yAxis.push({type:'value', gridIndex:g, min:0, max:1, interval:0.1, position:'right',
    axisLine:{show:true, onZero:false, lineStyle:{color:axisGray}},
    axisTick:{show:false}, axisLabel:{show:false}, splitLine:{show:false}});
});
panels.forEach((p, g) => {
  option.grid.push({left:591, width:8.5, top:p.top, height:p.height});
  option.xAxis.push({type:'value', gridIndex:3+g, min:0, max:1, show:false});
  option.yAxis.push({type:'value', gridIndex:3+g, min:p.min, max:p.max, position:'right',
    axisLine:{show:true, lineStyle:{color:'#9a9a9a'}},
    axisTick:{show:true, inside:true, length:3, lineStyle:{color:'#7a7a7a'}, customValues:p.ticks},
    axisLabel:{color:labelDark, fontSize:18, margin:6, fontFamily:FONT, customValues:p.ticks},
    splitLine:{show:false}});
});

panels.forEach((p, g) => {
  const xi = 2*g, yi = 2*g;
  // heat cells
  const cells = [];
  p.grid.forEach((row, r) => row.forEach((v, c) => {
    if (v !== null) cells.push([cellL[c], p.rows[r], v, c, r]);
  }));
  const heatIndex = option.series.length;
  option.series.push({type:'custom', xAxisIndex:xi, yAxisIndex:yi, data:cells, clip:true, z:1, silent:true,
    encode:{x:0, y:1}, renderItem:cellRenderer(p.rows, p.eL, p.eT)});
  option.visualMap.push({type:'continuous', show:false, seriesIndex:heatIndex, dimension:2,
    min:p.min, max:p.max, inRange:{color:parula}});
  // contour lines
  p.contours.forEach(ct => {
    const labIdx = {};
    ct.lab.forEach(l => { labIdx[l[0]] = l[1]; });
    option.series.push({type:'line', xAxisIndex:xi, yAxisIndex:yi, z:3, silent:true,
      symbol:'circle', symbolSize:0, showSymbol:true, smooth:0.3,
      lineStyle:{type:[4,3], width:ct.bold ? 1.3 : 0.9, color:ct.bold ? '#000' : '#2b2b2b'},
      itemStyle:{color:'transparent'},
      label:{show:false, position:'inside', fontSize:10, color:'#111', fontFamily:FONT},
      emphasis:{disabled:true},
      data: ct.pts.map((q, i) => i in labIdx
        ? {value:q, label:{show:true, formatter:ct.lv, rotate:labIdx[i]}}
        : {value:q})});
  });
  // shape glyphs
  const sites = [];
  siteK.forEach((k, r) => siteL[r].forEach(l => sites.push([l, k])));
  option.series.push({type:'custom', xAxisIndex:xi, yAxisIndex:yi, data:sites, z:4, silent:true, clip:false,
    renderItem:glyphRenderer('rgba(75,75,75,0.52)')});
  option.series.push({type:'custom', xAxisIndex:xi, yAxisIndex:yi, data:p.best, z:5, silent:true, clip:false,
    renderItem:glyphRenderer('#000')});
  // colour bar
  option.series.push({type:'custom', xAxisIndex:6+g, yAxisIndex:6+g, data:[[0.5, p.min]], silent:true,
    renderItem:function (params) {
      const cs = params.coordSys;
      return {type:'rect', shape:{x:cs.x, y:cs.y, width:cs.width, height:cs.height},
        style:{fill:new echarts.graphic.LinearGradient(0, 1, 0, 0,
          parula.map((col, i) => ({offset:i/(parula.length-1), color:col}))),
          stroke:'#9a9a9a', lineWidth:1}};
    }});
  // titles and panel letters
  option.graphic.push({type:'text', x:330, y:p.top - 14, style:{text:p.title, font:'bold 17.5px ' + FONT,
    fill:'#000', align:'center', verticalAlign:'middle', textAlign:'center', textVerticalAlign:'middle'}});
  option.graphic.push({type:'text', x:11, y:p.top - 15, style:{text:p.letter, font:'28px ' + FONT,
    fill:'#000', align:'left', verticalAlign:'middle', textAlign:'left', textVerticalAlign:'middle'}});
});

option.graphic.push({type:'text', x:38, y:688, rotation:Math.PI/2,
  style:{text:'\u{1D4A6} (curvature)', font:'21px ' + SERIF, fill:'#262626',
    align:'center', verticalAlign:'middle', textAlign:'center', textVerticalAlign:'middle'}});
option.graphic.push({type:'text', x:330, y:1370,
  style:{text:'\u2112 (elongation)', font:'20px ' + SERIF, fill:'#262626',
    align:'center', verticalAlign:'middle', textAlign:'center', textVerticalAlign:'middle'}});
option.graphic.push({type:'text', x:650, y:698, rotation:Math.PI/2,
  style:{text:'performance relative to spherical', font:'19.5px ' + FONT, fill:'#000',
    align:'center', verticalAlign:'middle', textAlign:'center', textVerticalAlign:'middle'}});

const chart = echarts.init(document.getElementById('chart'), null, {renderer:'canvas'});
chart.setOption(option);
</script>
</body>
</html>
